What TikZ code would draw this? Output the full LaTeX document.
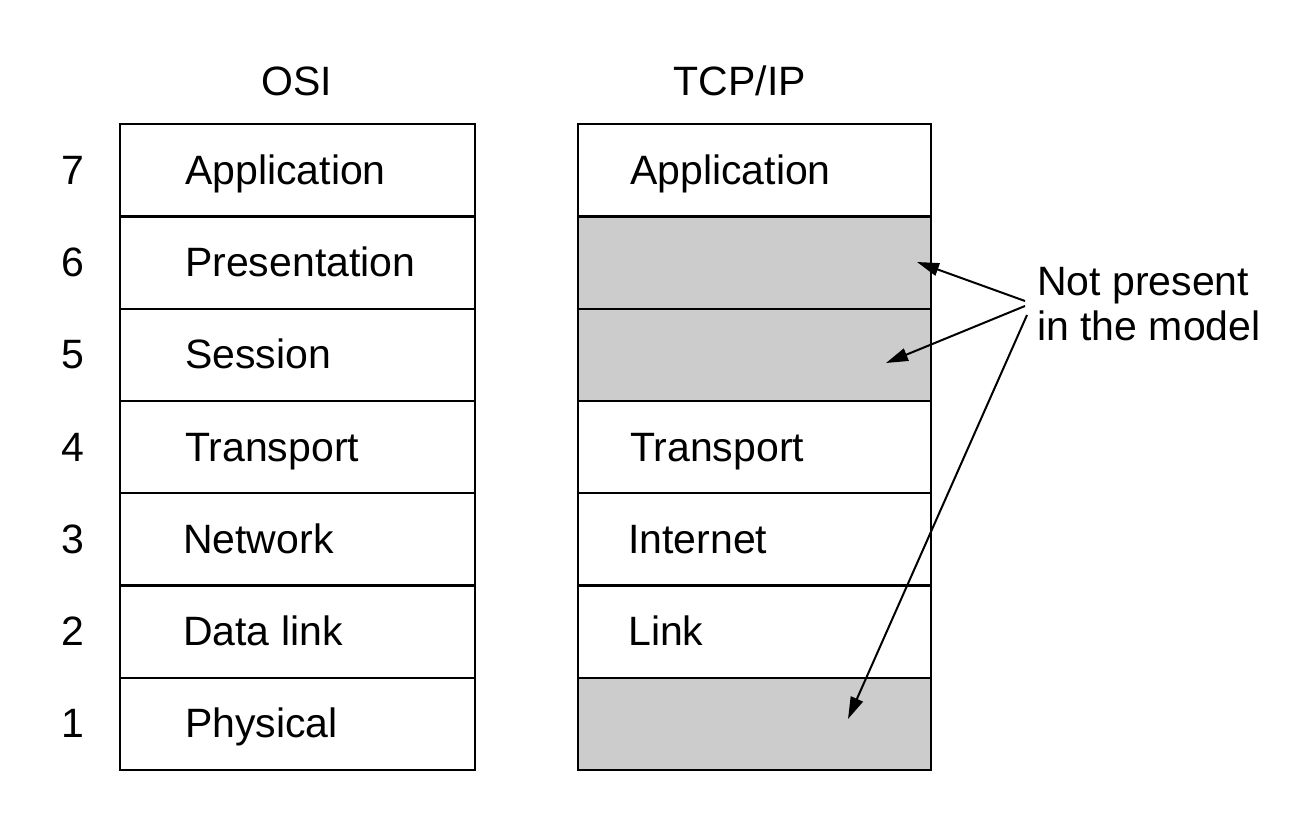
\documentclass[tikz,border=0pt]{standalone}
\usepackage{fontspec}
\setmainfont{Liberation Sans}
\usetikzlibrary{arrows.meta}
\definecolor{shade}{HTML}{CCCCCC}
\begin{document}
\begin{tikzpicture}[x=1pt,y=-1pt,
  every node/.style={font=\fontsize{41}{45}\selectfont},
  osicell/.style={draw=black,line width=2.2pt,minimum width=355pt,minimum height=92.3pt,inner sep=0pt,anchor=north west,fill=white},
  tcpcell/.style={draw=black,line width=2.2pt,minimum width=353pt,minimum height=92.3pt,inner sep=0pt,anchor=north west,fill=white},
  gap/.style={fill=shade},
  lbl/.style={anchor=base west,inner sep=0pt},
  num/.style={anchor=base,inner sep=0pt},
  pointer/.style={line width=2pt,-{Triangle[length=22pt,width=13pt]}}
]
\useasboundingbox (0,0) rectangle (1291,812);
% titles
\node[num] (osititle) at (297,95) {OSI};
\node[num] (tcptitle) at (740,95) {TCP/IP};
% OSI column
\node[osicell] (o7) at (119,123) {};
\node[osicell] (o6) at (119,215.3) {};
\node[osicell] (o5) at (119,307.6) {};
\node[osicell] (o4) at (119,399.9) {};
\node[osicell] (o3) at (119,492.1) {};
\node[osicell] (o2) at (119,584.4) {};
\node[osicell] (o1) at (119,676.7) {};
% TCP/IP column
\node[tcpcell] (t7) at (577,123) {};
\node[tcpcell,gap] (t6) at (577,215.3) {};
\node[tcpcell,gap] (t5) at (577,307.6) {};
\node[tcpcell] (t4) at (577,399.9) {};
\node[tcpcell] (t3) at (577,492.1) {};
\node[tcpcell] (t2) at (577,584.4) {};
\node[tcpcell,gap] (t1) at (577,676.7) {};
% OSI labels
\node[lbl] (l7) at ([xshift=66pt,yshift=-14pt]o7.west) {Application};
\node[lbl] (l6) at ([xshift=66pt,yshift=-14pt]o6.west) {Presentation};
\node[lbl] (l5) at ([xshift=66pt,yshift=-14pt]o5.west) {Session};
\node[lbl] (l4) at ([xshift=66pt,yshift=-14pt]o4.west) {Transport};
\node[lbl] (l3) at ([xshift=64pt,yshift=-14pt]o3.west) {Network};
\node[lbl] (l2) at ([xshift=64pt,yshift=-14pt]o2.west) {Data link};
\node[lbl] (l1) at ([xshift=66pt,yshift=-14pt]o1.west) {Physical};
% TCP/IP labels
\node[lbl] (m7) at ([xshift=53pt,yshift=-14pt]t7.west) {Application};
\node[lbl] (m4) at ([xshift=53pt,yshift=-14pt]t4.west) {Transport};
\node[lbl] (m3) at ([xshift=51pt,yshift=-14pt]t3.west) {Internet};
\node[lbl] (m2) at ([xshift=51pt,yshift=-14pt]t2.west) {Link};
% layer numbers
\foreach \i in {1,...,7}{
  \node[num] (n\i) at ([xshift=-46pt,yshift=-14pt]o\i.west) {\i};
}
% note
\node[anchor=base west,inner sep=0pt,align=left] (note) at (1037,340) {Not present\\in the model};
\coordinate (src1) at (1025,301);
\coordinate (src2) at (1025,306);
\coordinate (src3) at (1027,315);
\coordinate (tip6) at (917,262);
\coordinate (tip5) at (886,363);
\coordinate (tip1) at (848,719);
\draw[pointer] (src1) -- (tip6);
\draw[pointer] (src2) -- (tip5);
\draw[pointer] (src3) -- (tip1);
\end{tikzpicture}
\end{document}
